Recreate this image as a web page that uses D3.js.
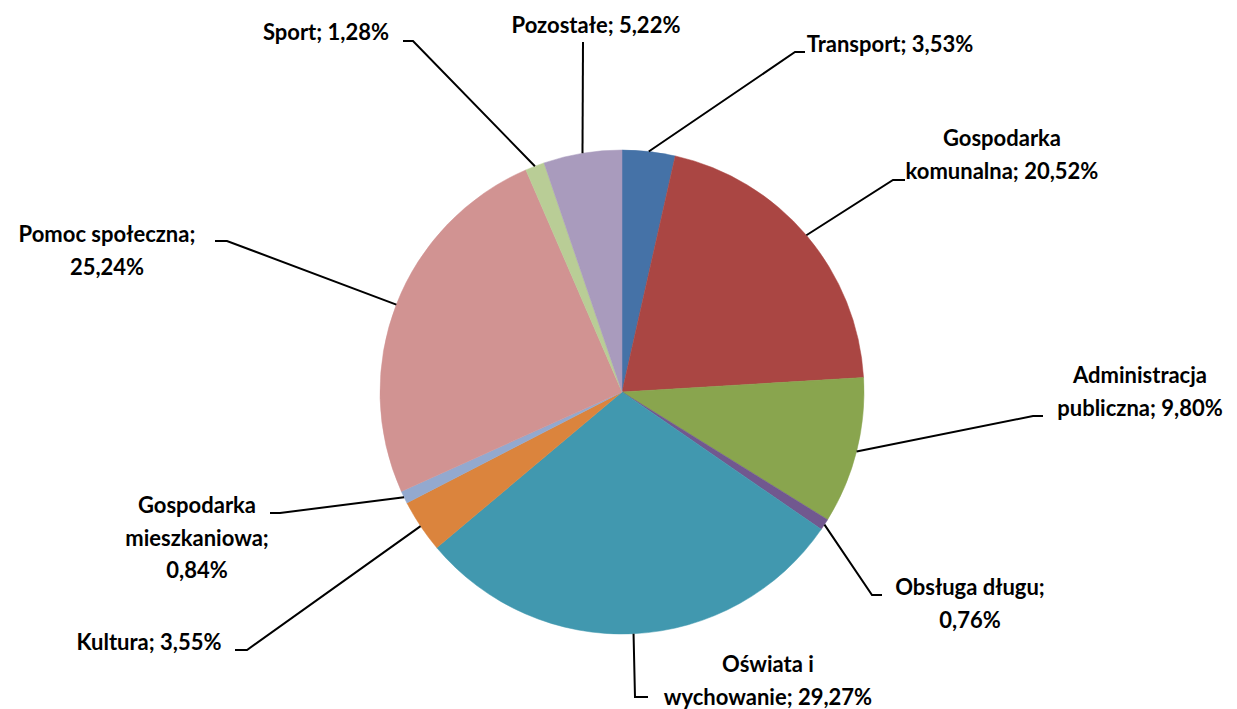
<!DOCTYPE html>
<html>
<head>
<meta charset="utf-8">
<script src="https://cdn.jsdelivr.net/npm/d3@7"></script>
<style>
  body{margin:0;background:#fff;}
  text{font-family:Lato,"Open Sans",sans-serif;font-weight:bold;font-size:22px;fill:#000;}
</style>
</head>
<body>
<script>
// categories and shares (%), clockwise from 12 o'clock
var categories=["Transport","Gospodarka komunalna","Administracja publiczna","Obsługa długu","Oświata i wychowanie","Kultura","Gospodarka mieszkaniowa","Pomoc społeczna","Sport","Pozostałe"]
var shares=[3.53,20.52,9.80,0.76,29.27,3.55,0.84,25.24,1.28,5.22]
var labelText=["3,53%","20,52%","9,80%","0,76%","29,27%","3,55%","0,84%","25,24%","1,28%","5,22%"]
var colors=["#4572A7","#AA4643","#89A54E","#71588F","#4198AF","#DB843D","#93A9CF","#D19392","#B9CD96","#A99BBD"]

// label layout: wrapped lines, center x, first baseline, leader bend + end
var labelLines=[
  ["Transport; 3,53%"],
  ["Gospodarka","komunalna; 20,52%"],
  ["Administracja","publiczna; 9,80%"],
  ["Obsługa długu;","0,76%"],
  ["Oświata i","wychowanie; 29,27%"],
  ["Kultura; 3,55%"],
  ["Gospodarka","mieszkaniowa;","0,84%"],
  ["Pomoc społeczna;","25,24%"],
  ["Sport; 1,28%"],
  ["Pozostałe; 5,22%"]
]
var labelPos=[[890,52],[1002,146],[1140,383],[970,595],[768,672],[149,650],[197,513],[107,242],[326,40],[596,33]]
var leaderPts=[
  [[795,52],[805,52]],
  [[893,180],[905,180]],
  [[1033,416],[1043,416]],
  [[872,595],[882,595]],
  [[635,697],[648,697]],
  [[247,650],[235,650]],
  [[280,513],[270,513]],
  [[227,241],[215,241]],
  [[413,41],[403,41]],
  [[583,42]]
]

var width=1237,height=709
var cx=622,cy=392,radius=242

var svg=d3.select("body").append("svg")
  .attr("width",width)
  .attr("height",height)

var pie=d3.pie().sort(null).value(function(d){return d})
var arcs=pie(shares)
var arc=d3.arc().innerRadius(0).outerRadius(radius)

var g=svg.append("g").attr("transform","translate("+cx+","+cy+")")
g.selectAll("path").data(arcs).enter().append("path")
  .attr("d",arc)
  .style("fill",function(d,i){return colors[i]})
  .style("stroke",function(d,i){return colors[i]})
  .style("stroke-width",0.5)

// leader lines
var line=d3.line()
arcs.forEach(function(a,i){
  var mid=(a.startAngle+a.endAngle)/2
  var start=[cx+radius*Math.sin(mid),cy-radius*Math.cos(mid)]
  svg.append("path")
    .attr("d",line([start].concat(leaderPts[i])))
    .style("fill","none")
    .style("stroke","#000")
    .style("stroke-width",2)
})

// labels
labelLines.forEach(function(lines,i){
  var t=svg.append("text")
    .attr("text-anchor","middle")
  lines.forEach(function(s,j){
    t.append("tspan")
      .attr("x",labelPos[i][0])
      .attr("y",labelPos[i][1]+j*32.5)
      .text(s)
  })
})
</script>
</body>
</html>
